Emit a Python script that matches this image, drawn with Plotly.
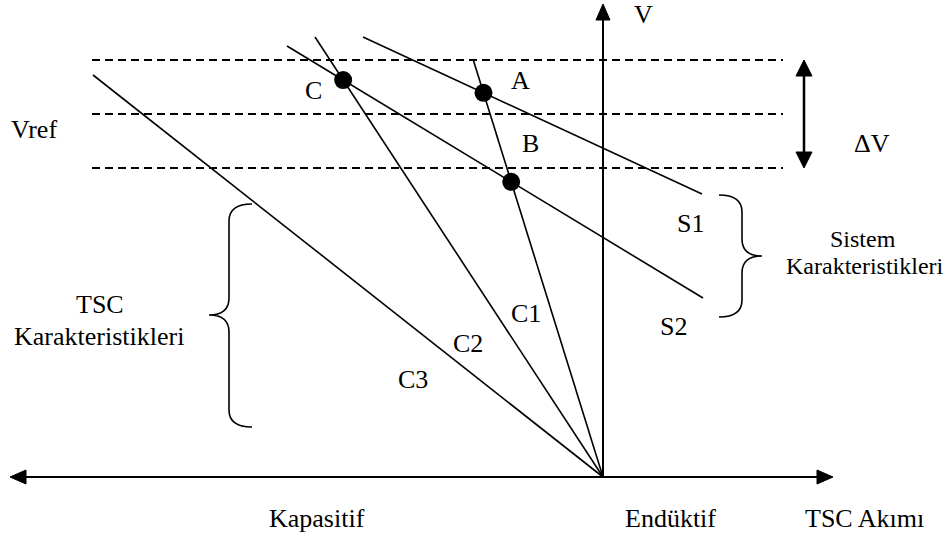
import plotly.graph_objects as go

# Coordinates: I = TSC current (negative = capacitive), V = voltage; origin at the axes' crossing.
ORIGIN = (0, 0)

# TSC characteristics: straight lines from the origin to their upper ends
tsc_names = ["C1", "C2", "C3"]
tsc_top_i = [-130, -288, -510]
tsc_top_v = [418, 440, 402]

# System characteristics: start and end of each line
sys_names = ["S1", "S2"]
sys_start_i = [-240, -316]
sys_start_v = [440, 431]
sys_end_i = [99, 100]
sys_end_v = [283, 179]

# Voltage band (upper limit, Vref, lower limit)
band_levels = [417, 363, 309]
band_i_start = -511
band_i_end = 180

# Axis extents
i_axis_min, i_axis_max = -593, 230
v_axis_max = 473
dv_arrow_i = 201

# Brace spans: (x of spine, top, middle, bottom, direction of the middle tip)
left_brace = (-374, 273, 162, 50, -1)
right_brace = (139, 282, 221, 160, 1)

FONT = "Times New Roman, Liberation Serif, serif"
BLACK = "black"

fig = go.Figure()

# Dashed voltage levels
for v in band_levels:
    fig.add_trace(go.Scatter(x=[band_i_start, band_i_end], y=[v, v], mode="lines",
                             line=dict(color=BLACK, width=1.8, dash="8px,5px"),
                             hoverinfo="skip", showlegend=False))

# TSC lines
for name, ti, tv in zip(tsc_names, tsc_top_i, tsc_top_v):
    fig.add_trace(go.Scatter(x=[ORIGIN[0], ti], y=[ORIGIN[1], tv], mode="lines", name=name,
                             line=dict(color=BLACK, width=1.6), showlegend=False))

# System lines
for name, si, sv, ei, ev in zip(sys_names, sys_start_i, sys_start_v, sys_end_i, sys_end_v):
    fig.add_trace(go.Scatter(x=[si, ei], y=[sv, ev], mode="lines", name=name,
                             line=dict(color=BLACK, width=1.6), showlegend=False))


def intersect(p1, p2, p3, p4):
    (x1, y1), (x2, y2), (x3, y3), (x4, y4) = p1, p2, p3, p4
    d = (x1 - x2) * (y3 - y4) - (y1 - y2) * (x3 - x4)
    a = x1 * y2 - y1 * x2
    b = x3 * y4 - y3 * x4
    return ((a * (x3 - x4) - (x1 - x2) * b) / d, (a * (y3 - y4) - (y1 - y2) * b) / d)


def tsc_line(k):
    return ORIGIN, (tsc_top_i[k], tsc_top_v[k])


def sys_line(k):
    return (sys_start_i[k], sys_start_v[k]), (sys_end_i[k], sys_end_v[k])


# Operating points
pt_A = intersect(*tsc_line(0), *sys_line(0))
pt_B = intersect(*tsc_line(0), *sys_line(1))
pt_C = intersect(*tsc_line(1), *sys_line(1))
fig.add_trace(go.Scatter(x=[pt_A[0], pt_B[0], pt_C[0]], y=[pt_A[1], pt_B[1], pt_C[1]],
                         mode="markers", marker=dict(color=BLACK, size=18),
                         hoverinfo="skip", showlegend=False))

shapes = []
AX_W = 2


def seg(x0, y0, x1, y1, w=AX_W):
    shapes.append(dict(type="line", x0=x0, y0=y0, x1=x1, y1=y1,
                       line=dict(color=BLACK, width=w)))


def head(tip_x, tip_y, dx, dy, length, half):
    # filled triangle pointing along (dx, dy)
    bx, by = tip_x - dx * length, tip_y - dy * length
    px, py = -dy * half, dx * half
    path = f"M {tip_x} {tip_y} L {bx + px} {by + py} L {bx - px} {by - py} Z"
    shapes.append(dict(type="path", path=path, fillcolor=BLACK,
                       line=dict(color=BLACK, width=1)))


# Current axis (double-headed) and voltage axis
seg(i_axis_min + 12, 0, i_axis_max - 12, 0)
head(i_axis_min, 0, -1, 0, 16, 7)
head(i_axis_max, 0, 1, 0, 16, 7)
seg(0, 0, 0, v_axis_max - 12)
head(0, v_axis_max, 0, 1, 16, 7)

# Delta-V double arrow
seg(dv_arrow_i, band_levels[2] + 12, dv_arrow_i, band_levels[0] - 12, 2.5)
head(dv_arrow_i, band_levels[0], 0, 1, 16, 8)
head(dv_arrow_i, band_levels[2], 0, -1, 16, 8)


def brace(x, top, mid, bot, d):
    r = 17
    tip = x + d * 20
    end = x - d * 23
    p = (f"M {end} {top} Q {x} {top} {x} {top - r} L {x} {mid + r} "
         f"Q {x} {mid} {tip} {mid} Q {x} {mid} {x} {mid - r} "
         f"L {x} {bot + r} Q {x} {bot} {end} {bot}")
    shapes.append(dict(type="path", path=p, line=dict(color=BLACK, width=1.6)))


brace(*left_brace)
brace(*right_brace)

# Text labels
labels = [
    ("V", 40, 463, 26), ("C", -290, 387, 26), ("A", -83, 397, 26), ("B", -73, 334, 26),
    ("Vref", -569, 348, 26), ("S1", 87, 254, 26), ("S2", 70, 151, 26),
    ("C1", -77, 164, 26), ("C2", -135, 134, 26), ("C3", -190, 98, 26),
    ("TSC", -503, 173, 26), ("Karakteristikleri", -504, 141, 26),
    ("Sistem", 260, 238, 24), ("Karakteristikleri", 262, 211, 24),
    ("\u0394V", 269, 334, 26),
    ("Kapasitif", -286, -41, 26), ("Endüktif", 67, -41, 26), ("TSC Akımı", 261, -41, 26),
]
annotations = [dict(x=x, y=y, text=t, showarrow=False, xanchor="center", yanchor="middle",
                    font=dict(family=FONT, size=s, color=BLACK))
               for t, x, y, s in labels]

fig.update_layout(
    width=946, height=535,
    margin=dict(l=0, r=0, t=0, b=0),
    paper_bgcolor="white", plot_bgcolor="white",
    xaxis=dict(range=[-603, 343], visible=False, fixedrange=True),
    yaxis=dict(range=[-58, 477], visible=False, fixedrange=True),
    shapes=shapes, annotations=annotations,
    showlegend=False,
)

fig.write_html("out.html")
